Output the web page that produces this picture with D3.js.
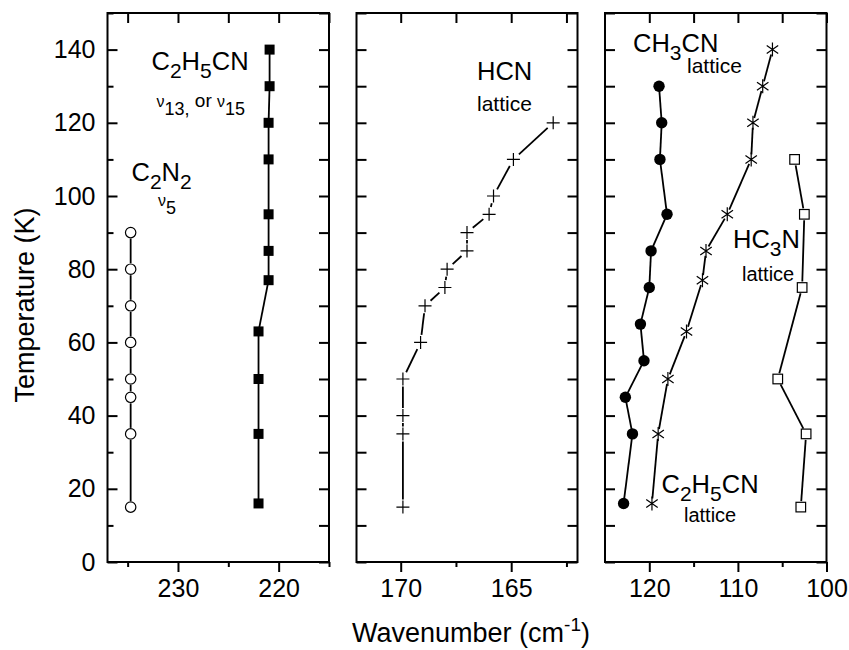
<!DOCTYPE html>
<html>
<head>
<meta charset="utf-8">
<script src="https://cdn.jsdelivr.net/npm/d3@7"></script>
<style>
  html, body { margin: 0; padding: 0; background: #fff; }
  svg { display: block; }
  text { font-family: "Liberation Sans", Arial, Helvetica, sans-serif; fill: #000; }
</style>
</head>
<body>
<svg id="chart" width="849" height="650"></svg>
<script>
// Temperature (K) and band position (cm^-1) for each ice band
const c2n2T   = [15, 35, 45, 50, 60, 70, 80, 90];
const c2n2Nu  = [234.7, 234.7, 234.7, 234.7, 234.7, 234.7, 234.7, 234.7];

const c2h5cnT  = [16, 35, 50, 63, 77, 85, 95, 110, 120, 130, 140];
const c2h5cnNu = [222.0, 222.0, 222.0, 222.0, 221.0, 221.0, 221.0, 221.0, 221.0, 220.9, 220.9];

const hcnT  = [15, 35, 40, 50, 60, 70, 75, 80, 85, 90, 95, 100, 110, 120];
const hcnNu = [169.9, 169.9, 169.9, 169.9, 169.1, 168.9, 168.0, 167.9, 167.0, 167.0, 166.0, 165.8, 164.9, 163.1];

const ch3cnT  = [16, 35, 45, 55, 65, 75, 85, 95, 110, 120, 130];
const ch3cnNu = [122.9, 121.9, 122.7, 120.6, 121.0, 120.0, 119.8, 118.0, 118.8, 118.6, 118.9];

const c2h5cnLatT  = [16, 35, 50, 63, 77, 85, 95, 110, 120, 130, 140];
const c2h5cnLatNu = [119.7, 119.0, 117.9, 115.8, 114.0, 113.6, 111.2, 108.5, 108.3, 107.2, 106.1];

const hc3nT  = [15, 35, 50, 75, 95, 110];
const hc3nNu = [102.9, 102.3, 105.5, 102.75, 102.5, 103.6];

// Axis ticks
const yMajor = [0, 20, 40, 60, 80, 100, 120, 140];
const yMinor = [10, 30, 50, 70, 90, 110, 130, 150];
const p1Major = [230, 220], p1Minor = [235, 225, 215];
const p2Major = [170, 165], p2Minor = [167.5, 162.5];
const p3Major = [120, 110, 100], p3Minor = [115, 105];

const svg = d3.select("#chart");
const plotTop = 13, plotBottom = 562;
const y = d3.scaleLinear().domain([0, 150]).range([plotBottom, plotTop]);

const panels = [
  { x: d3.scaleLinear().domain([237, 215]).range([107.5, 329]), major: p1Major, minor: p1Minor, first: true },
  { x: d3.scaleLinear().domain([172, 162]).range([356.5, 577.5]), major: p2Major, minor: p2Minor },
  { x: d3.scaleLinear().domain([125, 100]).range([605, 826.5]), major: p3Major, minor: p3Minor }
];

const TICK_FONT = 25;

function styleAxis(g) {
  g.attr("font-family", null).attr("font-size", null);
  g.select(".domain").remove();
  g.selectAll("line").attr("stroke", "#000").attr("stroke-width", 2);
  g.selectAll("text").attr("font-size", TICK_FONT).attr("fill", "#000");
}

panels.forEach(p => {
  const [x0, x1] = p.x.range();
  const g = svg.append("g");
  // bottom: labelled majors outward, short minors
  g.append("g").attr("transform", `translate(0,${plotBottom})`)
    .call(d3.axisBottom(p.x).tickValues(p.major).tickSize(10).tickPadding(7).tickFormat(d3.format("d")))
    .call(styleAxis);
  g.append("g").attr("transform", `translate(0,${plotBottom})`)
    .call(d3.axisBottom(p.x).tickValues(p.minor).tickSize(5).tickFormat(""))
    .call(styleAxis);
  // top: inward ticks
  g.append("g").attr("transform", `translate(0,${plotTop})`)
    .call(d3.axisTop(p.x).tickValues(p.major.concat(p.minor)).tickSize(-10).tickFormat(""))
    .call(styleAxis);
  // left
  if (p.first) {
    g.append("g").attr("transform", `translate(${x0},0)`)
      .call(d3.axisLeft(y).tickValues(yMajor).tickSize(-10).tickPadding(12).tickFormat(d3.format("d")))
      .call(styleAxis);
    g.append("g").attr("transform", `translate(${x0},0)`)
      .call(d3.axisLeft(y).tickValues(yMinor).tickSize(-6).tickFormat(""))
      .call(styleAxis);
  } else {
    g.append("g").attr("transform", `translate(${x0},0)`)
      .call(d3.axisLeft(y).tickValues(yMajor.concat(yMinor)).tickSize(-10).tickFormat(""))
      .call(styleAxis);
  }
  // right: inward ticks
  g.append("g").attr("transform", `translate(${x1},0)`)
    .call(d3.axisRight(y).tickValues(yMajor.concat(yMinor)).tickSize(-10).tickFormat(""))
    .call(styleAxis);
  // frame
  g.append("rect").attr("x", x0).attr("y", plotTop).attr("width", x1 - x0).attr("height", plotBottom - plotTop)
    .attr("fill", "none").attr("stroke", "#000").attr("stroke-width", 2);
});

// connecting line with small gaps around each symbol
function drawLine(xs, T, Nu, gap) {
  const pts = T.map((t, i) => [xs(Nu[i]), y(t)]);
  const segs = [];
  for (let i = 0; i < pts.length - 1; i++) {
    const [ax, ay] = pts[i], [bx, by] = pts[i + 1];
    const len = Math.hypot(bx - ax, by - ay);
    if (len <= 2 * gap) continue;
    const ux = (bx - ax) / len, uy = (by - ay) / len;
    segs.push([[ax + ux * gap, ay + uy * gap], [bx - ux * gap, by - uy * gap]]);
  }
  svg.append("g").selectAll("line").data(segs).join("line")
    .attr("x1", d => d[0][0]).attr("y1", d => d[0][1])
    .attr("x2", d => d[1][0]).attr("y2", d => d[1][1])
    .attr("stroke", "#000").attr("stroke-width", 1.8);
  return pts;
}

function markers(pts, kind) {
  const g = svg.append("g");
  pts.forEach(([px, py]) => {
    if (kind === "openCircle") {
      g.append("circle").attr("cx", px).attr("cy", py).attr("r", 5.2)
        .attr("fill", "#fff").attr("stroke", "#000").attr("stroke-width", 1.2);
    } else if (kind === "filledCircle") {
      g.append("circle").attr("cx", px).attr("cy", py).attr("r", 5.7).attr("fill", "#000");
    } else if (kind === "filledSquare") {
      g.append("rect").attr("x", px - 5).attr("y", py - 5).attr("width", 10).attr("height", 10).attr("fill", "#000");
    } else if (kind === "openSquare") {
      g.append("rect").attr("x", px - 4.8).attr("y", py - 4.8).attr("width", 9.6).attr("height", 9.6)
        .attr("fill", "#fff").attr("stroke", "#000").attr("stroke-width", 1.2);
    } else if (kind === "plus") {
      g.append("path").attr("d", `M${px - 6.5},${py}H${px + 6.5}M${px},${py - 6.5}V${py + 6.5}`)
        .attr("stroke", "#000").attr("stroke-width", 1.2).attr("fill", "none");
    } else if (kind === "star") {
      const r = 7;
      let d = "";
      [90, 35, 145].forEach(a => {
        const rad = a * Math.PI / 180, dx = r * Math.cos(rad), dy = r * Math.sin(rad);
        d += `M${px - dx},${py - dy}L${px + dx},${py + dy}`;
      });
      g.append("path").attr("d", d).attr("stroke", "#000").attr("stroke-width", 1.2).attr("fill", "none");
    }
  });
}

const [P1, P2, P3] = panels;
markers(drawLine(P1.x, c2n2T, c2n2Nu, 6), "openCircle");
markers(drawLine(P1.x, c2h5cnT, c2h5cnNu, 0), "filledSquare");
markers(drawLine(P2.x, hcnT, hcnNu, 7.5), "plus");
markers(drawLine(P3.x, ch3cnT, ch3cnNu, 0), "filledCircle");
markers(drawLine(P3.x, c2h5cnLatT, c2h5cnLatNu, 5), "star");
markers(drawLine(P3.x, hc3nT, hc3nNu, 6), "openSquare");

// labels with sub/superscripts: parts are [text, "n"|"s"|"p", size]
function rich(x, yb, parts, size) {
  const t = svg.append("text").attr("x", x).attr("y", yb).attr("font-size", size);
  let shift = 0;
  parts.forEach(([s, k, fs]) => {
    const target = k === "s" ? 8 : k === "p" ? -10 : 0;
    t.append("tspan").attr("dy", target - shift).attr("font-size", fs || size).text(s);
    shift = target;
  });
  return t;
}

const SUB = 21;
rich(151.5, 70, [["C"], ["2", "s", SUB], ["H"], ["5", "s", SUB], ["CN"]], 25.5);
rich(156.5, 107, [["ν", "n", 16], ["13,", "s", 18], [" or ", "n", 19], ["ν", "n", 16], ["15", "s", 18]], 19);
rich(131.5, 181, [["C"], ["2", "s", SUB], ["N"], ["2", "s", SUB]], 25.5);
rich(158, 206, [["ν", "n", 16], ["5", "s", 18]], 19);

rich(477, 80, [["HCN"]], 25.5);
rich(477, 111, [["lattice"]], 21);

rich(633, 51.5, [["CH"], ["3", "s", SUB], ["CN"]], 25.5);
rich(687, 73, [["lattice"]], 21);

rich(733, 248, [["HC"], ["3", "s", SUB], ["N"]], 25.5);
rich(742, 280.5, [["lattice"]], 20);

rich(661.5, 493, [["C"], ["2", "s", SUB], ["H"], ["5", "s", SUB], ["CN"]], 25.5);
rich(684, 521.5, [["lattice"]], 20);

// axis titles
svg.append("text").attr("transform", "translate(34,305) rotate(-90)")
  .attr("text-anchor", "middle").attr("font-size", 27).text("Temperature (K)");

const xt = svg.append("text").attr("x", 471).attr("y", 642).attr("text-anchor", "middle").attr("font-size", 27);
xt.append("tspan").text("Wavenumber (cm");
xt.append("tspan").attr("dy", -11).attr("font-size", 19).text("-1");
xt.append("tspan").attr("dy", 11).text(")");
</script>
</body>
</html>
